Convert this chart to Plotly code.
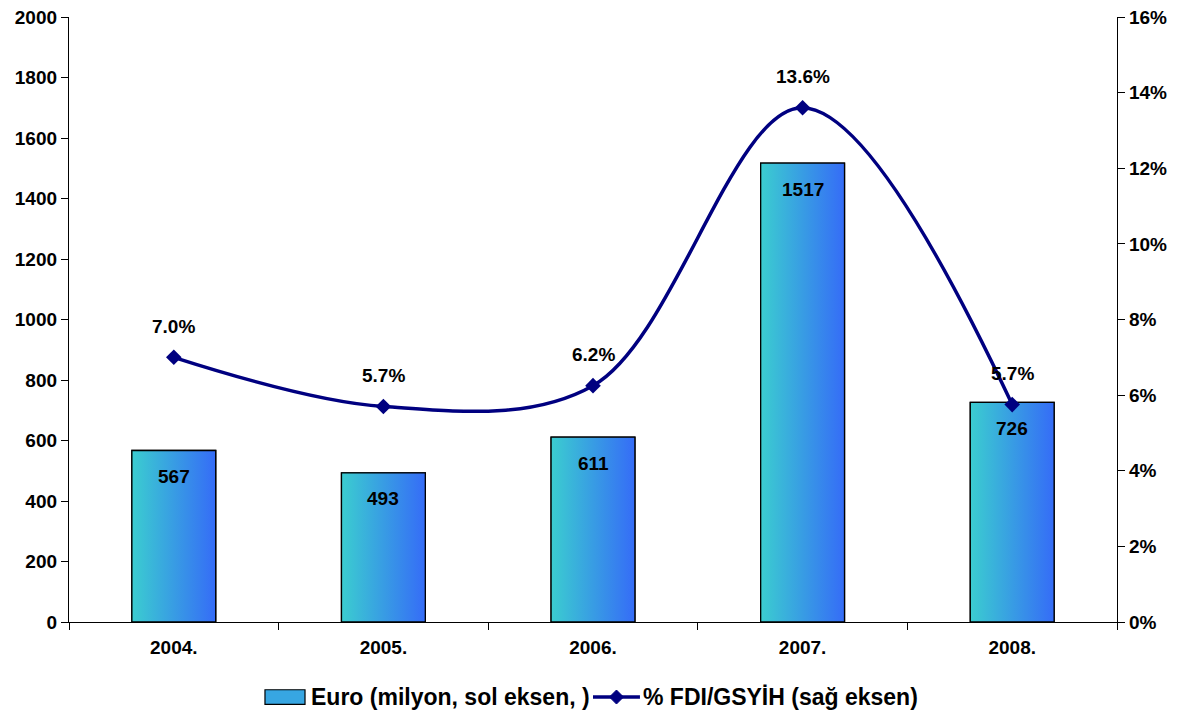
import plotly.graph_objects as go

years = ["2004.", "2005.", "2006.", "2007.", "2008."]
euro_million = [567, 493, 611, 1517, 726]
fdi_gdp_pct = [7.0, 5.7, 6.25, 13.6, 5.75]
fdi_labels = ["7.0%", "5.7%", "6.2%", "13.6%", "5.7%"]
left_ticks = [0, 200, 400, 600, 800, 1000, 1200, 1400, 1600, 1800, 2000]
right_ticks = [0, 2, 4, 6, 8, 10, 12, 14, 16]
bar_name = "Euro (milyon, sol eksen, )"
line_name = "% FDI/GSYİH (sağ eksen)"

FONT = "Liberation Sans"
BAR_W = 0.4
NAVY = "#000080"
xs = list(range(len(years)))
bounds = [i - 0.5 for i in range(len(years) + 1)]

fig = go.Figure()

fig.add_trace(go.Bar(
    x=xs, y=euro_million, width=BAR_W, name=bar_name,
    marker=dict(color="#37A6E2", line=dict(color="black", width=1.3)),
    yaxis="y", showlegend=False,
))

for x, v in zip(xs, euro_million):
    x0, x1 = x - BAR_W / 2, x + BAR_W / 2
    fig.add_trace(go.Scatter(
        x=[x0, x1, x1, x0, x0], y=[0, 0, v, v, 0],
        mode="lines", fill="toself",
        fillgradient=dict(type="horizontal", start=x0, stop=x1,
                          colorscale=[[0, "#3BCDD0"], [1, "#356CF7"]]),
        line=dict(color="black", width=1.3),
        showlegend=False, hoverinfo="skip", yaxis="y",
    ))

fig.add_trace(go.Scatter(
    x=xs, y=fdi_gdp_pct, yaxis="y2", name=line_name,
    mode="lines+markers",
    line=dict(color=NAVY, width=3.5, shape="spline", smoothing=1.0),
    marker=dict(symbol="diamond", size=12, color=NAVY),
    showlegend=False,
))

lblfont = dict(family=FONT, size=19, color="black", weight="bold")
annotations = []
for x, v in zip(xs, euro_million):
    annotations.append(dict(x=x, y=v, xref="x", yref="y", text=str(v),
                            showarrow=False, yshift=-26, font=lblfont))
for x, v, t in zip(xs, fdi_gdp_pct, fdi_labels):
    annotations.append(dict(x=x, y=v, xref="x", yref="y2", text=t,
                            showarrow=False, yshift=31, font=lblfont))

# manual legend (paper coordinates)
legfont = dict(family=FONT, size=23, color="black", weight="bold")
LEG_Y = -0.124
annotations.append(dict(x=0.229, y=LEG_Y, xref="paper", yref="paper", text=bar_name,
                        showarrow=False, xanchor="left", yanchor="middle", font=legfont))
annotations.append(dict(x=0.546, y=LEG_Y, xref="paper", yref="paper", text=line_name,
                        showarrow=False, xanchor="left", yanchor="middle", font=legfont))
dx, dy = 7 / 1048, 7 / 605
shapes = [
    dict(type="rect", xref="paper", yref="paper", x0=0.187, x1=0.2252,
         y0=LEG_Y - 0.012, y1=LEG_Y + 0.012,
         fillcolor="#37A6E2", line=dict(color="black", width=1.2)),
    dict(type="line", xref="paper", yref="paper", x0=0.5, x1=0.5448,
         y0=LEG_Y, y1=LEG_Y, line=dict(color=NAVY, width=3.5)),
    dict(type="path", xref="paper", yref="paper",
         path=f"M {0.5224-dx} {LEG_Y} L 0.5224 {LEG_Y+dy} L {0.5224+dx} {LEG_Y} L 0.5224 {LEG_Y-dy} Z",
         fillcolor=NAVY, line=dict(color=NAVY, width=1)),
]

tickfont = dict(family=FONT, size=19, color="black", weight="bold")
axline = dict(showline=True, linecolor="black", linewidth=1.3, showgrid=False,
              zeroline=False, automargin=False, ticklabeloverflow="allow")

fig.update_layout(
    width=1184, height=714,
    margin=dict(l=69, r=67, t=17, b=92),
    paper_bgcolor="white", plot_bgcolor="white",
    showlegend=False,
    xaxis=dict(range=[-0.5, 4.5], tickvals=xs, ticktext=years, ticks="",
               tickfont=tickfont, ticklabelstandoff=8,
               minor=dict(tickvals=bounds, ticks="outside", ticklen=7,
                          tickcolor="black", tickwidth=1.2), **axline),
    xaxis2=dict(range=[-0.5, 4.5], overlaying="x", side="bottom", anchor="y",
                tickvals=bounds, ticks="inside", ticklen=6, tickcolor="black",
                tickwidth=1.2, showticklabels=False, showline=False,
                showgrid=False, zeroline=False, automargin=False),
    yaxis=dict(range=[0, 2000], tickvals=left_ticks, ticks="outside", ticklen=7,
               tickcolor="black", tickfont=tickfont, **axline),
    yaxis3=dict(range=[0, 2000], overlaying="y", side="left", anchor="x",
                tickvals=left_ticks, ticks="inside", ticklen=6, tickcolor="black",
                showticklabels=False, showline=False, showgrid=False,
                zeroline=False, automargin=False),
    yaxis2=dict(range=[0, 16], tickvals=right_ticks,
                ticktext=[f"{t}%" for t in right_ticks],
                overlaying="y", side="right", anchor="x", ticks="outside", ticklen=7,
                tickcolor="black", tickfont=tickfont, **axline),
    yaxis4=dict(range=[0, 16], overlaying="y", side="right", anchor="x",
                tickvals=right_ticks, ticks="inside", ticklen=6, tickcolor="black",
                showticklabels=False, showline=False, showgrid=False,
                zeroline=False, automargin=False),
    annotations=annotations,
    shapes=shapes,
)

# remove the browser's default 8px body margin so the figure sits at the page corner
fig.write_html("out.html",
               config={"displayModeBar": False},
               post_script="document.body.style.margin='0';document.body.style.overflow='hidden';")
